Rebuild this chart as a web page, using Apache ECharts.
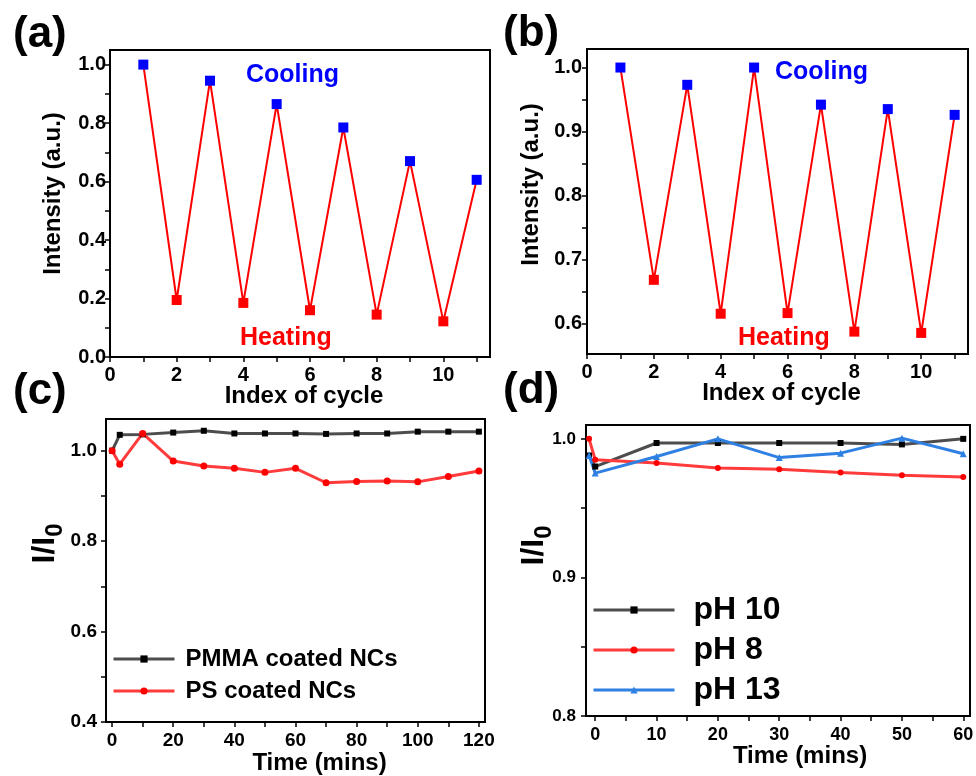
<!DOCTYPE html>
<html>
<head>
<meta charset="utf-8">
<script src="https://cdn.jsdelivr.net/npm/echarts@6/dist/echarts.min.js"></script>
<style>
  html, body { margin: 0; background: #fff; }
  #chart { width: 976px; height: 776px; }
</style>
</head>
<body>
<div id="chart"></div>
<script>
// (a) / (b): heating-cooling cycles
const cycles = [1, 2, 3, 4, 5, 6, 7, 8, 9, 10, 11]
const intensityA = [1.0, 0.195, 0.945, 0.185, 0.865, 0.16, 0.785, 0.145, 0.67, 0.122, 0.606]
const intensityB = [1.0, 0.668, 0.973, 0.615, 1.0, 0.616, 0.942, 0.587, 0.935, 0.585, 0.926]

// (c): coated NCs vs time
const timeC = [0, 2.5, 10, 20, 30, 40, 50, 60, 70, 80, 90, 100, 110, 120]
const pmmaC = [1.0, 1.035, 1.036, 1.040, 1.044, 1.038, 1.038, 1.038, 1.037, 1.038, 1.038, 1.042, 1.042, 1.042]
const psC = [1.0, 0.970, 1.038, 0.977, 0.966, 0.961, 0.952, 0.961, 0.929, 0.932, 0.933, 0.931, 0.943, 0.955]

// (d): pH stability
const timeD = [-1, 0, 10, 20, 30, 40, 50, 60]
const ph10 = [0.988, 0.980, 0.997, 0.997, 0.997, 0.997, 0.996, 1.0]
const ph8 = [1.0, 0.985, 0.9825, 0.979, 0.978, 0.9757, 0.9738, 0.9724]
const ph13 = [0.988, 0.9753, 0.9873, 1.0, 0.9865, 0.9897, 1.0005, 0.9892]

// tick labels
const cycleTicks = [0, 2, 4, 6, 8, 10]
const intensityTicksA = [0, 0.2, 0.4, 0.6, 0.8, 1.0]
const intensityTicksB = [0.6, 0.7, 0.8, 0.9, 1.0]
const timeTicksC = [0, 20, 40, 60, 80, 100, 120]
const ratioTicksC = [0.4, 0.6, 0.8, 1.0]
const timeTicksD = [0, 10, 20, 30, 40, 50, 60]
const ratioTicksD = [0.8, 0.9, 1.0]

const font = 'Liberation Sans, Arial, sans-serif'

// major ticks plus one minor tick halfway
function withMinor (labels, max) {
  const half = (labels[1] - labels[0]) / 2
  const out = []
  for (let v = labels[0]; v <= max + 1e-9; v += half) {
    out.push(Math.round(v * 1e6) / 1e6)
  }
  return out
}

function axis (grid, min, max, labels, digits, size, margin, name, nameGap, nameSize, shift) {
  return {
    type: 'value',
    gridIndex: grid,
    min: min,
    max: max,
    splitLine: { show: false },
    axisLine: { show: true, onZero: false, lineStyle: { color: '#000', width: 2 } },
    axisTick: {
      show: true,
      inside: false,
      length: 5,
      lineStyle: { color: '#000', width: 1.5 },
      customValues: withMinor(labels, max)
    },
    axisLabel: {
      customValues: labels,
      margin: margin,
      color: '#000',
      fontSize: size,
      fontWeight: 'bold',
      fontFamily: font,
      formatter: (v) => v.toFixed(digits)
    },
    name: name,
    nameLocation: 'middle',
    nameGap: nameGap,
    nameMoveOverlap: false,
    nameTextStyle: {
      color: '#000',
      fontSize: nameSize,
      fontWeight: 'bold',
      fontFamily: font,
      padding: [0, 0, 0, shift || 0],
      rich: {
        a: { fontSize: 32, fontWeight: 'bold', fontFamily: font, color: '#000', padding: [0, 0, 6, 0] },
        b: { fontSize: 24, fontWeight: 'bold', fontFamily: font, color: '#000', verticalAlign: 'bottom' }
      }
    }
  }
}

const pairs = (xs, ys) => xs.map((x, i) => [x, ys[i]])
const ratioName = '{a|I/I}{b|0}'

function label (text, x, y, size, color) {
  return {
    type: 'text',
    x: x,
    y: y,
    style: {
      text: text,
      fontSize: size,
      fontWeight: 'bold',
      fontFamily: font,
      fill: color,
      verticalAlign: 'middle',
      textVerticalAlign: 'middle'
    }
  }
}

const cycleColor = (p) => (p.dataIndex % 2 === 0 ? '#0000ff' : '#ff0000')

const option = {
  animation: false,
  backgroundColor: '#fff',
  grid: [
    { left: 110, top: 50, width: 380, height: 307 },
    { left: 587, top: 49, width: 381, height: 305 },
    { left: 106, top: 419, width: 379, height: 303 },
    { left: 586, top: 425, width: 384, height: 291 }
  ].map(g => Object.assign(g, { show: true, borderColor: '#000', borderWidth: 2, backgroundColor: 'transparent', outerBoundsMode: 'none' })),
  xAxis: [
    axis(0, 0, 11.4, cycleTicks, 0, 20, 8, 'Index of cycle', 27, 24, 8),
    axis(1, 0, 11.4, cycleTicks, 0, 20, 8, 'Index of cycle', 27, 24, 8),
    axis(2, -2, 122, timeTicksC, 0, 19, 9, 'Time (mins)', 29, 24, 48),
    axis(3, -1.5, 61.1, timeTicksD, 0, 18, 10, 'Time (mins)', 28, 24, 44)
  ],
  yAxis: [
    axis(0, 0, 1.05, intensityTicksA, 1, 20, 4, 'Intensity (a.u.)', 45, 24, 20),
    axis(1, 0.552, 1.029, intensityTicksB, 1, 20, 5, 'Intensity (a.u.)', 44, 24, 34),
    axis(2, 0.4, 1.07, ratioTicksC, 1, 19, 9, ratioName, 39, 32, 54),
    axis(3, 0.8, 1.01, ratioTicksD, 1, 17, 10, ratioName, 30, 32, 50)
  ],
  legend: [
    {
      data: ['PMMA coated NCs', 'PS coated NCs'],
      orient: 'vertical',
      left: 112,
      top: 647,
      padding: 0,
      itemWidth: 61,
      itemHeight: 9,
      itemGap: 8,
      lineStyle: { width: 3 },
      textStyle: { fontSize: 24, fontWeight: 'bold', color: '#000', fontFamily: font, padding: [0, 0, 0, 6] }
    },
    {
      data: ['pH 10', 'pH 8', 'pH 13'],
      orient: 'vertical',
      left: 592,
      top: 594,
      padding: 0,
      itemWidth: 81,
      itemHeight: 9,
      itemGap: 8,
      lineStyle: { width: 3 },
      textStyle: { fontSize: 32, fontWeight: 'bold', color: '#000', fontFamily: font, padding: [0, 0, 0, 14] }
    }
  ],
  graphic: [
    label('(a)', 13, 35, 44, '#000'),
    label('(b)', 503, 34, 44, '#000'),
    label('(c)', 13, 392, 44, '#000'),
    label('(d)', 503, 391, 44, '#000'),
    label('Cooling', 246, 75, 25, '#0000ff'),
    label('Heating', 240, 338, 25, '#ff0000'),
    label('Cooling', 775, 72, 25, '#0000ff'),
    label('Heating', 738, 338, 25, '#ff0000')
  ],
  series: [
    {
      name: 'cycles a',
      type: 'line',
      xAxisIndex: 0,
      yAxisIndex: 0,
      data: pairs(cycles, intensityA),
      symbol: 'rect',
      symbolSize: 10,
      lineStyle: { color: '#ff0000', width: 2 },
      itemStyle: { color: cycleColor }
    },
    {
      name: 'cycles b',
      type: 'line',
      xAxisIndex: 1,
      yAxisIndex: 1,
      data: pairs(cycles, intensityB),
      symbol: 'rect',
      symbolSize: 10,
      lineStyle: { color: '#ff0000', width: 2 },
      itemStyle: { color: cycleColor }
    },
    {
      name: 'PMMA coated NCs',
      type: 'line',
      xAxisIndex: 2,
      yAxisIndex: 2,
      data: pairs(timeC, pmmaC),
      symbol: 'rect',
      symbolSize: 6,
      lineStyle: { color: '#4d4d4d', width: 3 },
      itemStyle: { color: '#000' }
    },
    {
      name: 'PS coated NCs',
      type: 'line',
      xAxisIndex: 2,
      yAxisIndex: 2,
      data: pairs(timeC, psC),
      symbol: 'circle',
      symbolSize: 7,
      lineStyle: { color: '#ff3b3b', width: 3 },
      itemStyle: { color: '#ff0000' }
    },
    {
      name: 'pH 10',
      type: 'line',
      xAxisIndex: 3,
      yAxisIndex: 3,
      data: pairs(timeD, ph10),
      symbol: 'rect',
      symbolSize: 6,
      lineStyle: { color: '#4d4d4d', width: 3 },
      itemStyle: { color: '#000' }
    },
    {
      name: 'pH 8',
      type: 'line',
      xAxisIndex: 3,
      yAxisIndex: 3,
      data: pairs(timeD, ph8),
      symbol: 'circle',
      symbolSize: 6,
      lineStyle: { color: '#ff3b3b', width: 3 },
      itemStyle: { color: '#ff0000' }
    },
    {
      name: 'pH 13',
      type: 'line',
      xAxisIndex: 3,
      yAxisIndex: 3,
      data: pairs(timeD, ph13),
      symbol: 'triangle',
      symbolSize: 7,
      lineStyle: { color: '#2f80e3', width: 3 },
      itemStyle: { color: '#2f80e3' }
    }
  ]
}

const chart = echarts.init(document.getElementById('chart'))
chart.setOption(option)

window.addEventListener('resize', () => {
  chart.resize()
})
</script>
</body>
</html>
